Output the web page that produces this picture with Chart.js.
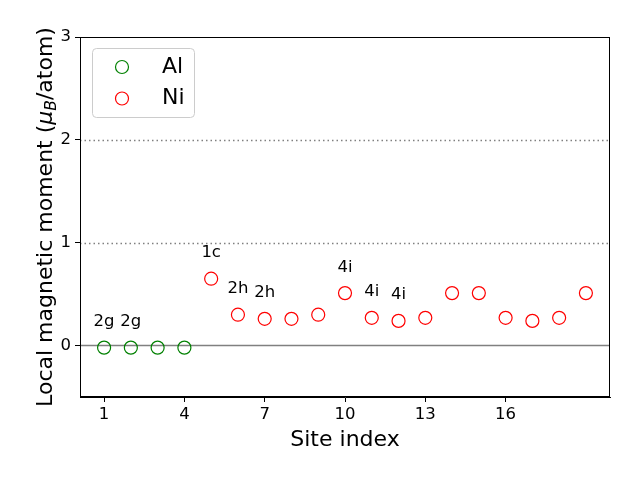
<!DOCTYPE html>
<html lang="en">
<head>
<meta charset="UTF-8">
<title>Local magnetic moment</title>
<style>
  body { margin: 0; background: #fff; }
  canvas { display: block; }
</style>
</head>
<body>
<canvas id="myChart" width="640" height="480"></canvas>
<script src="https://cdn.jsdelivr.net/npm/chart.js"></script>
<script>
// data
const alSites = [1, 2, 3, 4];
const alMoments = [-0.02, -0.02, -0.02, -0.02];
const niSites = [5, 6, 7, 8, 9, 10, 11, 12, 13, 14, 15, 16, 17, 18, 19];
const niMoments = [0.65, 0.30, 0.26, 0.26, 0.30, 0.51, 0.27, 0.24, 0.27, 0.51, 0.51, 0.27, 0.24, 0.27, 0.51];
const labelSites = [1, 2, 5, 6, 7, 10, 11, 12];
const labelTexts = ['2g', '2g', '1c', '2h', '2h', '4i', '4i', '4i'];
const xTicks = [1, 4, 7, 10, 13, 16];
const yTicks = [0, 1, 2, 3];
const dottedLines = [1, 2];
const solidLines = [0];

const FONT = '"DejaVu Sans", sans-serif';

function pts(xs, ys) {
  return xs.map((x, i) => ({ x: x, y: ys[i] }));
}

function momentAt(site) {
  let i = alSites.indexOf(site);
  if (i >= 0) return alMoments[i];
  return niMoments[niSites.indexOf(site)];
}

const extras = {
  id: 'extras',
  beforeDatasetsDraw(chart) {
    const ctx = chart.ctx, a = chart.chartArea, ys = chart.scales.y;
    ctx.save();
    ctx.strokeStyle = 'gray';
    ctx.lineWidth = 1.5;
    ctx.setLineDash([1.5, 3]);
    for (const v of dottedLines) {
      const py = Math.round(ys.getPixelForValue(v)) + 0.5;
      ctx.beginPath(); ctx.moveTo(a.left, py); ctx.lineTo(a.right, py); ctx.stroke();
    }
    ctx.setLineDash([]);
    for (const v of solidLines) {
      const py = ys.getPixelForValue(v);
      ctx.beginPath(); ctx.moveTo(a.left, py); ctx.lineTo(a.right, py); ctx.stroke();
    }
    ctx.restore();
  },
  afterDraw(chart) {
    const ctx = chart.ctx, a = chart.chartArea;
    const xs = chart.scales.x, ys = chart.scales.y;
    ctx.save();
    // frame top/right
    ctx.strokeStyle = '#000';
    ctx.lineWidth = 1;
    ctx.strokeRect(a.left + 0.5, a.top + 0.5, a.right - a.left - 1, a.bottom - a.top - 1);

    // site labels
    ctx.fillStyle = '#000';
    ctx.font = '16.5px ' + FONT;
    ctx.textAlign = 'center';
    ctx.textBaseline = 'middle';
    labelSites.forEach((s, i) => {
      ctx.fillText(labelTexts[i], xs.getPixelForValue(s), ys.getPixelForValue(momentAt(s) + 0.25));
    });

    // x title
    ctx.font = '22px ' + FONT;
    ctx.textBaseline = 'alphabetic';
    ctx.fillText('Site index', (a.left + a.right) / 2, 446);

    // y title with mathtext mu_B
    const parts = [
      { t: 'Local magnetic moment (', f: '22px ' + FONT, dy: 0 },
      { t: '\u03bc', f: 'italic 22px ' + FONT, dy: 0 },
      { t: 'B', f: 'italic 15.5px ' + FONT, dy: 4 },
      { t: '/atom)', f: '22px ' + FONT, dy: 0 }
    ];
    let total = 0;
    for (const p of parts) { ctx.font = p.f; p.w = ctx.measureText(p.t).width; total += p.w; }
    ctx.translate(52, (a.top + a.bottom) / 2);
    ctx.rotate(-Math.PI / 2);
    ctx.textAlign = 'left';
    let cx = -total / 2;
    for (const p of parts) {
      ctx.font = p.f;
      ctx.fillText(p.t, cx, p.dy);
      cx += p.w;
    }
    ctx.setTransform(1, 0, 0, 1, 0, 0);

    // legend
    const bx = 92, by = 48, bw = 102, bh = 69, r = 4;
    ctx.fillStyle = 'rgba(255,255,255,0.8)';
    ctx.strokeStyle = '#cccccc';
    ctx.lineWidth = 1;
    ctx.beginPath();
    ctx.roundRect(bx + 0.5, by + 0.5, bw, bh, r);
    ctx.fill(); ctx.stroke();
    const items = [['Al', 'green', 67], ['Ni', 'red', 98.5]];
    ctx.font = '22px ' + FONT;
    ctx.textBaseline = 'middle';
    ctx.fillStyle = '#000';
    for (const [name, col, yy] of items) {
      ctx.strokeStyle = col;
      ctx.lineWidth = 1.2;
      ctx.beginPath(); ctx.arc(122, yy, 6.5, 0, Math.PI * 2); ctx.stroke();
      ctx.fillText(name, 162, yy);
    }
    ctx.restore();
  }
};

const tickFont = { family: FONT, size: 16.5 };

new Chart(document.getElementById('myChart'), {
  type: 'scatter',
  data: {
    datasets: [
      {
        label: 'Al',
        data: pts(alSites, alMoments),
        borderColor: 'green',
        backgroundColor: 'rgba(0,0,0,0)',
        pointRadius: 6.5,
        pointHoverRadius: 6.5,
        pointBorderWidth: 1.2
      },
      {
        label: 'Ni',
        data: pts(niSites, niMoments),
        borderColor: 'red',
        backgroundColor: 'rgba(0,0,0,0)',
        pointRadius: 6.5,
        pointHoverRadius: 6.5,
        pointBorderWidth: 1.2
      }
    ]
  },
  options: {
    responsive: false,
    animation: false,
    devicePixelRatio: 1,
    layout: { padding: { left: 0, top: 37, right: 30, bottom: 0 } },
    plugins: {
      legend: { display: false },
      tooltip: { enabled: false }
    },
    scales: {
      x: {
        type: 'linear',
        min: 0.1,
        max: 19.9,
        afterFit(s) { s.height = 83; },
        afterBuildTicks(s) { s.ticks = xTicks.map(v => ({ value: v })); },
        grid: { drawOnChartArea: false, tickLength: 5, tickColor: '#000', tickWidth: 1 },
        border: { display: true, color: '#000', width: 1 },
        ticks: { font: tickFont, color: '#000', padding: 3, maxRotation: 0 }
      },
      y: {
        type: 'linear',
        min: -0.5,
        max: 3,
        afterFit(s) { s.width = 80; },
        afterBuildTicks(s) { s.ticks = yTicks.map(v => ({ value: v })); },
        grid: { drawOnChartArea: false, tickLength: 5, tickColor: '#000', tickWidth: 1 },
        border: { display: true, color: '#000', width: 1 },
        ticks: { font: tickFont, color: '#000', padding: 4 }
      }
    }
  },
  plugins: [extras]
});
</script>
</body>
</html>
